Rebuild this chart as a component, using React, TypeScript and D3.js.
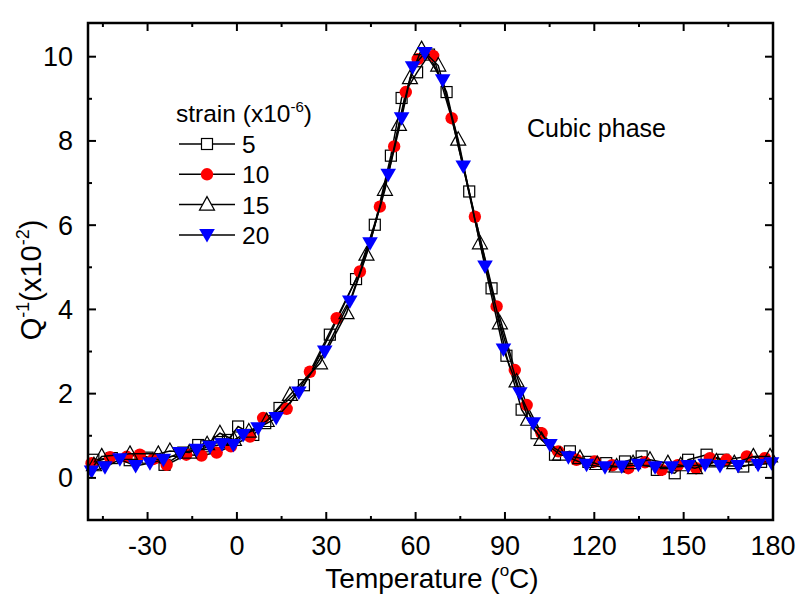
import React from "react";
import * as d3 from "d3";

const W = 799;
const H = 594;

// strain 5 (open squares)
const s5T = [-48.2, -42, -36, -30, -24.3, -18, -13, -10.3, -6, -3, 0.4, 5.5, 9.5, 14.3, 22.5, 31.2, 40, 46.3, 51.7, 55.3, 60.5, 64.5, 70.4, 78, 85.5, 90.5, 95.6, 100.6, 106.8, 111.8, 118, 124, 130.3, 135.9, 141, 147, 151.5, 157.7, 163.3, 170, 176];
const s5Q = [0.43, 0.47, 0.42, 0.48, 0.31, 0.6, 0.78, 0.75, 0.85, 0.9, 1.22, 1.02, 1.3, 1.66, 2.2, 3.4, 4.72, 6.01, 7.65, 9.02, 9.63, 10.05, 9.16, 6.8, 4.5, 2.9, 1.62, 1.06, 0.55, 0.63, 0.38, 0.35, 0.39, 0.51, 0.19, 0.11, 0.43, 0.55, 0.43, 0.27, 0.38];

// strain 10 (red circles)
const s10T = [-48.8, -42.6, -37, -32.6, -28, -23.6, -17, -11.9, -6.8, -2, 4.4, 8.8, 16.7, 24.5, 33.5, 41.3, 48, 52.8, 56.7, 60.7, 65.9, 72.1, 79.9, 87.2, 93.3, 97.3, 102.3, 107.9, 114, 120.2, 126, 131.4, 137, 142.6, 148, 154.2, 158.8, 164.4, 171.2, 177.3];
const s10Q = [0.35, 0.49, 0.5, 0.55, 0.45, 0.31, 0.55, 0.53, 0.6, 0.75, 0.98, 1.42, 1.64, 2.52, 3.79, 4.9, 6.44, 7.87, 9.16, 9.94, 10.02, 8.54, 6.2, 4.07, 2.56, 1.73, 1.06, 0.63, 0.43, 0.39, 0.3, 0.23, 0.37, 0.19, 0.3, 0.23, 0.47, 0.43, 0.51, 0.47];

// strain 15 (open triangles)
const s15T = [-48, -45.4, -35.9, -26.4, -22.5, -16, -10, -5.7, -1, 4, 10, 17.8, 27.9, 36.8, 43.5, 49.7, 54.4, 58.1, 62, 67.6, 74.3, 81.6, 88.3, 93.9, 97.8, 102.3, 108.5, 115.2, 121, 127.5, 133, 138.7, 144.7, 149, 153.8, 161, 167, 173.4, 179];
const s15Q = [0.3, 0.51, 0.57, 0.57, 0.64, 0.6, 0.8, 1.06, 0.9, 1.1, 1.35, 1.97, 2.72, 3.91, 5.3, 6.84, 8.38, 9.49, 10.18, 9.79, 8.03, 5.57, 3.67, 2.29, 1.38, 0.9, 0.55, 0.47, 0.33, 0.27, 0.35, 0.43, 0.35, 0.3, 0.23, 0.39, 0.35, 0.51, 0.51];

// strain 20 (blue down triangles)
const s20T = [-48.8, -44.3, -39.3, -34, -29.2, -24.7, -19.1, -13.5, -9, -5, -1.2, 2.1, 7.1, 13.2, 20.8, 29.5, 37.9, 44.7, 50.8, 55.3, 59, 63.1, 69.1, 76, 83.3, 89.5, 95, 99.5, 105.1, 111.3, 117.4, 123.6, 129.2, 134.8, 140.4, 146, 151.5, 157.2, 162.2, 168.3, 175, 179.5];
const s20Q = [0.15, 0.25, 0.44, 0.28, 0.35, 0.43, 0.59, 0.67, 0.74, 0.8, 0.78, 1.02, 1.18, 1.42, 2.03, 3.0, 4.19, 5.57, 7.2, 8.54, 9.75, 10.09, 9.44, 7.39, 5.02, 3.05, 2.01, 1.3, 0.78, 0.49, 0.31, 0.25, 0.27, 0.31, 0.25, 0.25, 0.28, 0.31, 0.28, 0.28, 0.31, 0.35];

const seriesLabels = ["5", "10", "15", "20"];
const xMajor = [-30, 0, 30, 60, 90, 120, 150, 180];
const xMinor = [-45, -15, 15, 45, 75, 105, 135, 165];
const yMajor = [0, 2, 4, 6, 8, 10];
const yMinor = [1, 3, 5, 7, 9];

const L = 88, R = 773, T = 23, B = 520;
const x = d3.scaleLinear().domain([-50, 180]).range([L, R]);
const y = d3.scaleLinear().domain([-1, 10.8]).range([B, T]);

type Kind = "square" | "circle" | "tri" | "dtri";
const series: { label: string; T: number[]; Q: number[]; kind: Kind }[] = [
  { label: seriesLabels[0], T: s5T, Q: s5Q, kind: "square" },
  { label: seriesLabels[1], T: s10T, Q: s10Q, kind: "circle" },
  { label: seriesLabels[2], T: s15T, Q: s15Q, kind: "tri" },
  { label: seriesLabels[3], T: s20T, Q: s20Q, kind: "dtri" },
];

function Marker({ kind, cx, cy, legend }: { kind: Kind; cx: number; cy: number; legend?: boolean }) {
  const openFill = legend ? "#fff" : "none";
  if (kind === "square")
    return <rect x={cx - 5.5} y={cy - 5.5} width={11} height={11} fill={openFill} stroke="#000" strokeWidth={1.2} />;
  if (kind === "circle") return <circle cx={cx} cy={cy} r={6.2} fill="#ff0000" />;
  if (kind === "tri")
    return (
      <path
        d={`M${cx},${cy - 8}L${cx + 7.5},${cy + 5.5}L${cx - 7.5},${cy + 5.5}Z`}
        fill={openFill}
        stroke="#000"
        strokeWidth={1.2}
      />
    );
  return <path d={`M${cx - 7.8},${cy - 6}L${cx + 7.8},${cy - 6}L${cx},${cy + 7.5}Z`} fill="#0000ff" />;
}

export default function App() {
  const line = d3
    .line<[number, number]>()
    .x((d) => x(d[0]))
    .y((d) => y(d[1]));
  const font = "Liberation Sans, Arial, sans-serif";
  return (
    <svg width={W} height={H} style={{ position: "absolute", left: 0, top: 0, background: "#fff" }} fontFamily={font}>
      <rect x={0} y={0} width={W} height={H} fill="#fff" />
      {series.map((s, i) => {
        const pts = s.T.map((t, j) => [t, s.Q[j]] as [number, number]);
        return (
          <g key={i}>
            <path d={line(pts) || ""} fill="none" stroke="#000" strokeWidth={1.5} />
            {pts.map((p, j) => (
              <Marker key={j} kind={s.kind} cx={x(p[0])} cy={y(p[1])} />
            ))}
          </g>
        );
      })}
      {/* frame */}
      <rect x={L} y={T} width={R - L} height={B - T} fill="none" stroke="#000" strokeWidth={2.5} />
      {xMajor.map((v) => (
        <g key={"xm" + v}>
          <line x1={x(v)} x2={x(v)} y1={B} y2={B - 8} stroke="#000" strokeWidth={2} />
          <line x1={x(v)} x2={x(v)} y1={T} y2={T + 8} stroke="#000" strokeWidth={2} />
          <text x={x(v)} y={555} fontSize={27} textAnchor="middle">
            {v}
          </text>
        </g>
      ))}
      {xMinor.map((v) => (
        <g key={"xn" + v}>
          <line x1={x(v)} x2={x(v)} y1={B} y2={B - 4} stroke="#000" strokeWidth={2} />
          <line x1={x(v)} x2={x(v)} y1={T} y2={T + 4} stroke="#000" strokeWidth={2} />
        </g>
      ))}
      {yMajor.map((v) => (
        <g key={"ym" + v}>
          <line x1={L} x2={L + 8} y1={y(v)} y2={y(v)} stroke="#000" strokeWidth={2} />
          <line x1={R} x2={R - 8} y1={y(v)} y2={y(v)} stroke="#000" strokeWidth={2} />
          <text x={73} y={y(v) + 9.5} fontSize={27} textAnchor="end">
            {v}
          </text>
        </g>
      ))}
      {yMinor.map((v) => (
        <g key={"yn" + v}>
          <line x1={L} x2={L + 4} y1={y(v)} y2={y(v)} stroke="#000" strokeWidth={2} />
          <line x1={R} x2={R - 4} y1={y(v)} y2={y(v)} stroke="#000" strokeWidth={2} />
        </g>
      ))}
      {/* axis titles */}
      <text x={432} y={588} fontSize={28} textAnchor="middle">
        Temperature (<tspan fontSize={17} dy={-12}>o</tspan>
        <tspan dy={12}>C)</tspan>
      </text>
      <text transform="translate(41,280) rotate(-90)" fontSize={29} textAnchor="middle">
        Q<tspan fontSize={18} dy={-12}>-1</tspan>
        <tspan dy={12}>(x10</tspan>
        <tspan fontSize={18} dy={-12}>-2</tspan>
        <tspan dy={12}>)</tspan>
      </text>
      {/* annotation */}
      <text x={527} y={137} fontSize={25}>
        Cubic phase
      </text>
      {/* legend */}
      <text x={176} y={122} fontSize={24.5}>
        strain (x10<tspan fontSize={15} dy={-10}>-6</tspan>
        <tspan dy={10}>)</tspan>
      </text>
      {series.map((s, i) => {
        const ly = 144 + i * 30.3;
        return (
          <g key={"lg" + i}>
            <line x1={179} x2={235} y1={ly} y2={ly} stroke="#000" strokeWidth={1.5} />
            <Marker kind={s.kind} cx={207} cy={ly} legend />
            <text x={242} y={ly + 9} fontSize={24.5}>
              {s.label}
            </text>
          </g>
        );
      })}
    </svg>
  );
}
